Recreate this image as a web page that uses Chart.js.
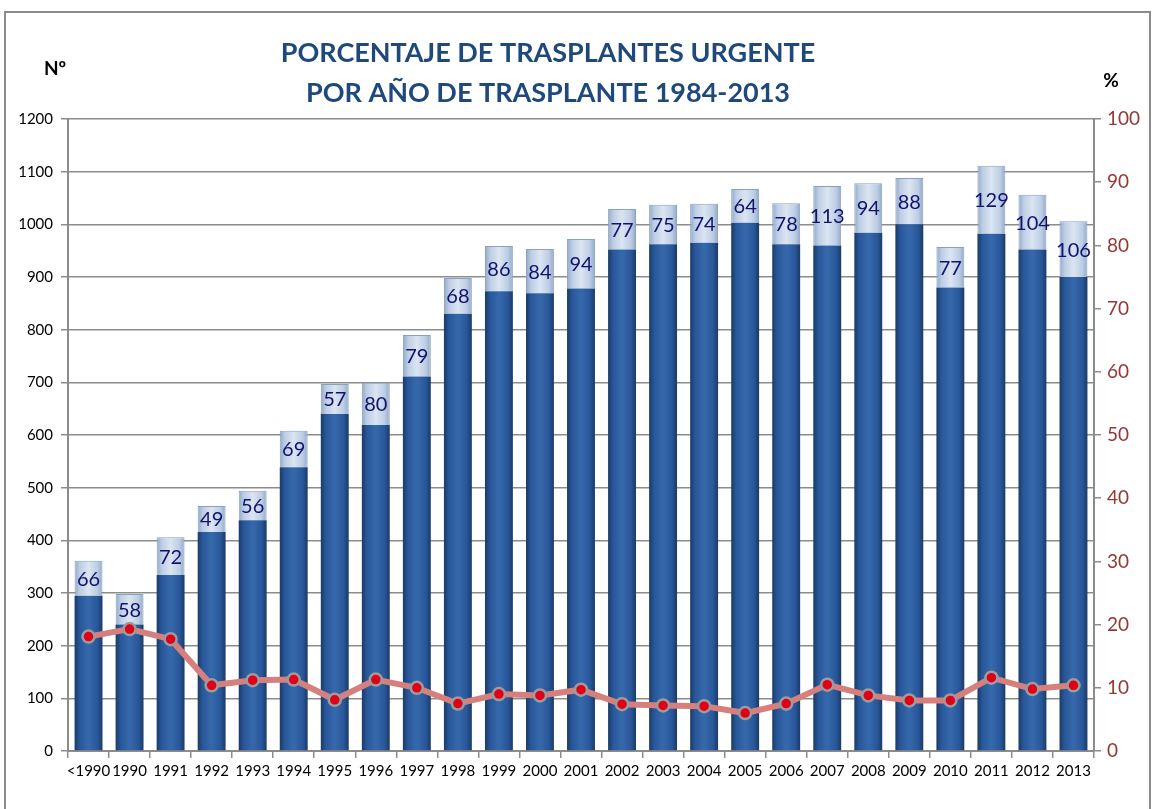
<!DOCTYPE html>
<html><head><meta charset="utf-8">
<script src="https://cdn.jsdelivr.net/npm/chart.js@4"></script>
<style>html,body{margin:0;padding:0;background:#fff;}#wrap{width:1155px;height:809px;position:relative;}</style>
</head><body><div id="wrap"><canvas id="c" width="1155" height="809"></canvas></div>
<script>
const categories = ['<1990','1990','1991','1992','1993','1994','1995','1996','1997','1998','1999','2000','2001','2002','2003','2004','2005','2006','2007','2008','2009','2010','2011','2012','2013'];
const noUrgentes = [295,240,334,416,438,539,640,619,711,830,873,869,878,952,962,965,1003,962,960,984,1000,880,982,952,900];
const urgentes = [66,58,72,49,56,69,57,80,79,68,86,84,94,77,75,74,64,78,113,94,88,77,129,104,106];
const pctUrgentes = [18.1,19.3,17.7,10.4,11.2,11.3,8.1,11.3,10.0,7.5,9.0,8.8,9.7,7.4,7.2,7.1,6.0,7.5,10.5,8.8,8.0,8.0,11.6,9.8,10.4];
const titleLines = ['PORCENTAJE DE TRASPLANTES URGENTE','POR AÑO DE TRASPLANTE 1984-2013'];
const leftAxisTitle = 'Nº';
const rightAxisTitle = '%';

const BAR_PCT = 0.68;
function barGradient(ctx, stops){
  const chart = ctx.chart; const xs = chart.scales && chart.scales.x;
  if (!xs || ctx.dataIndex === undefined) return stops[2];
  const x = xs.getPixelForValue(ctx.dataIndex);
  const w = xs.width / categories.length * BAR_PCT;
  if (!isFinite(x) || !isFinite(w) || w <= 0) return stops[2];
  const g = chart.ctx.createLinearGradient(x - w/2, 0, x + w/2, 0);
  g.addColorStop(0, stops[0]); g.addColorStop(0.18, stops[1]); g.addColorStop(0.5, stops[2]);
  g.addColorStop(0.82, stops[1]); g.addColorStop(1, stops[0]);
  return g;
}

const decorPlugin = {
  id: 'decor',
  beforeDraw(chart){
    const c = chart.ctx; c.save();
    c.fillStyle = '#fff'; c.fillRect(0,0,chart.width,chart.height);
    c.strokeStyle = '#8c8c8c'; c.lineWidth = 2;
    c.beginPath(); c.moveTo(5, 812); c.lineTo(5, 12); c.lineTo(1150, 12); c.lineTo(1150, 812); c.stroke();
    c.restore();
  },
  afterDraw(chart){
    const c = chart.ctx; c.save();
    c.fillStyle = '#1F497D'; c.font = 'bold 27px Lato'; c.textAlign = 'center'; c.textBaseline = 'middle';
    c.fillText(titleLines[0], 548, 53);
    c.fillText(titleLines[1], 548, 93);
    c.fillStyle = '#000'; c.font = 'bold 19px Lato';
    c.fillText(leftAxisTitle, 55, 69);
    c.fillText(rightAxisTitle, 1111, 81);
    c.restore();
  },
  afterDatasetsDraw(chart){
    const c = chart.ctx; const meta = chart.getDatasetMeta(2);
    c.save(); c.fillStyle = '#12126e'; c.font = '20px Lato'; c.textAlign = 'center'; c.textBaseline = 'middle';
    meta.data.forEach((el, i) => { c.fillText(String(urgentes[i]), el.x, (el.y + el.base)/2 + 1); });
    c.restore();
  }
};

new Chart(document.getElementById('c'), {
  data: {
    labels: categories,
    datasets: [
      { type:'line', label:'% urgentes', data: pctUrgentes, yAxisID:'y1', order:0,
        borderColor:'#d6807e', borderWidth:6, pointRadius:6, pointHoverRadius:6,
        pointBackgroundColor:'#e00018', pointBorderColor:'#9c9c9c', pointBorderWidth:2.5, tension:0 },
      { type:'bar', label:'No urgentes', data: noUrgentes, yAxisID:'y', order:1, stack:'s',
        backgroundColor: (ctx)=>barGradient(ctx, ['#1a3b66','#28579a','#3669ab']),
        barPercentage: BAR_PCT, categoryPercentage: 1 },
      { type:'bar', label:'Urgentes', data: urgentes, yAxisID:'y', order:1, stack:'s',
        backgroundColor: (ctx)=>barGradient(ctx, ['#90a8c8','#bccde4','#dbe5f2']),
        borderColor:'#8aa0bf', borderWidth:1,
        barPercentage: BAR_PCT, categoryPercentage: 1 }
    ]
  },
  options: {
    responsive:false, animation:false,
    layout:{ padding:{ top:119, left:0, right:0, bottom:0 } },
    plugins:{ legend:{display:false}, tooltip:{enabled:false}, title:{display:false} },
    scales:{
      x:{ stacked:true, offset:true,
        grid:{ offset:true, drawOnChartArea:false, color:'#8c8c8c', tickLength:7, lineWidth:1.5 },
        border:{ color:'#8c8c8c', width:2 },
        ticks:{ color:'#000', font:{ family:'Lato', size:15 }, padding:4, maxRotation:0, autoSkip:false },
        afterFit(s){ s.height = 58; } },
      y:{ stacked:true, position:'left', min:0, max:1200,
        grid:{ color:'#8c8c8c', lineWidth:1.5, tickLength:7 },
        border:{ color:'#8c8c8c', width:2 },
        ticks:{ stepSize:100, color:'#000', font:{ family:'Lato', size:15 }, padding:8, callback:(v)=>String(v) },
        afterFit(s){ s.width = 68; } },
      y1:{ position:'right', min:0, max:100,
        grid:{ drawOnChartArea:false, color:'#8c8c8c', lineWidth:1.5, tickLength:7 },
        border:{ color:'#8c8c8c', width:2 },
        ticks:{ stepSize:10, color:'#953735', font:{ family:'Lato', size:19 }, padding:6, callback:(v)=>String(v) },
        afterFit(s){ s.width = 61; } }
    }
  },
  plugins:[decorPlugin]
});
</script></body></html>
